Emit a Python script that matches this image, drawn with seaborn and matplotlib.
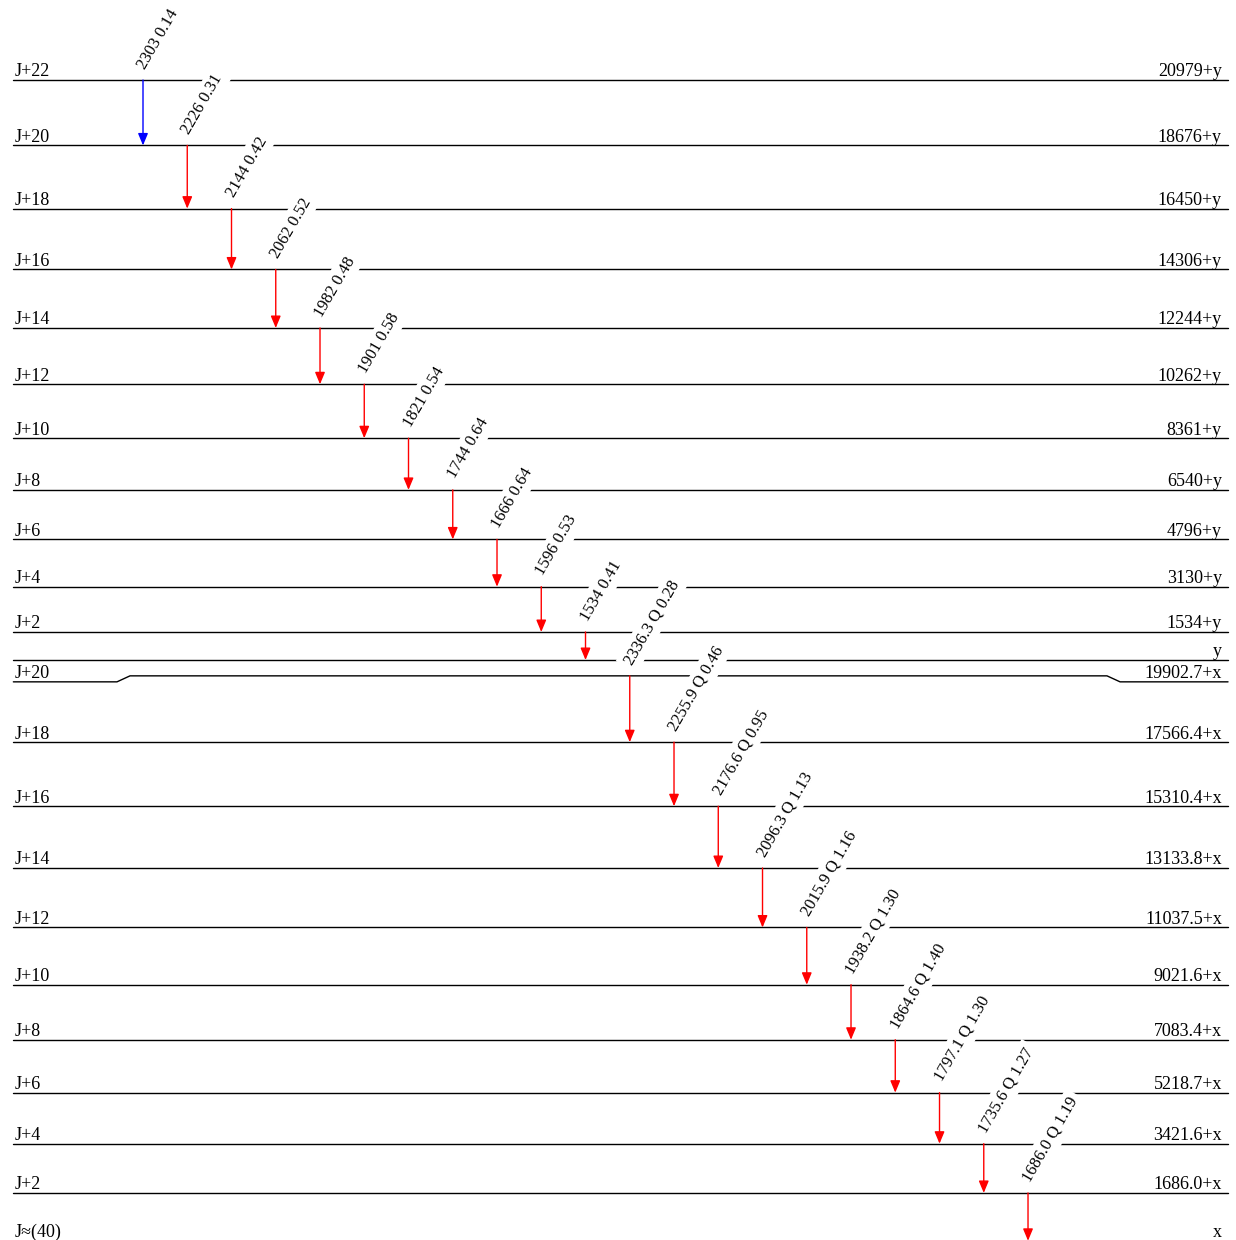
import numpy as np
import pandas as pd
import matplotlib
matplotlib.use('Agg')
import matplotlib.pyplot as plt
import seaborn as sns

# band "y" (upper part of the scheme)
y_spins = ['J+22', 'J+20', 'J+18', 'J+16', 'J+14', 'J+12', 'J+10', 'J+8', 'J+6', 'J+4', 'J+2', '']
y_energies = [20979, 18676, 16450, 14306, 12244, 10262, 8361, 6540, 4796, 3130, 1534, 0]
y_names = ['20979+y', '18676+y', '16450+y', '14306+y', '12244+y', '10262+y', '8361+y',
           '6540+y', '4796+y', '3130+y', '1534+y', 'y']
y_gammas = ['2303', '2226', '2144', '2062', '1982', '1901', '1821', '1744', '1666', '1596', '1534']
y_ratios = ['0.14', '0.31', '0.42', '0.52', '0.48', '0.58', '0.54', '0.64', '0.64', '0.53', '0.41']

# band "x" (lower part of the scheme)
x_spins = ['J+20', 'J+18', 'J+16', 'J+14', 'J+12', 'J+10', 'J+8', 'J+6', 'J+4', 'J+2', 'J\u2248(40)']
x_energies = [19902.7, 17566.4, 15310.4, 13133.8, 11037.5, 9021.6, 7083.4, 5218.7, 3421.6, 1686.0, 0.0]
x_names = ['19902.7+x', '17566.4+x', '15310.4+x', '13133.8+x', '11037.5+x', '9021.6+x',
           '7083.4+x', '5218.7+x', '3421.6+x', '1686.0+x', 'x']
x_gammas = ['2336.3', '2255.9', '2176.6', '2096.3', '2015.9', '1938.2', '1864.6', '1797.1', '1735.6', '1686.0']
x_ratios = ['Q 0.28', 'Q 0.46', 'Q 0.95', 'Q 1.13', 'Q 1.16', 'Q 1.30', 'Q 1.40', 'Q 1.30', 'Q 1.27', 'Q 1.19']

# layout
y_offset = 19914      # vertical shift of the y band
y_head_lift = 548     # bandhead y drawn a bit above its true place
kink_drop = 211       # J+20 (x) ends pushed down to clear the y line
x_left, x_right = -2.93, 24.52
first_color = 'blue'
other_color = 'red'

sns.set_style('white')
plt.rcParams['font.family'] = ['Liberation Serif', 'DejaVu Serif']
plt.rcParams['text.color'] = 'black'

# drawn positions of the levels
y_draw = [e + y_offset for e in y_energies]
y_draw[-1] = y_offset + y_head_lift
x_draw = list(x_energies)

rows = []
label_v = []
for i, v in enumerate(y_draw):
    rows += [('y%d' % i, x_left, v, 0), ('y%d' % i, x_right, v, 1)]
    label_v.append(v)
for i, v in enumerate(x_draw):
    if i == 0:
        lo = v - kink_drop
        pts = [(x_left, lo), (-0.588, lo), (-0.294, v), (21.785, v), (22.08, lo), (x_right, lo)]
        for k, (px, py) in enumerate(pts):
            rows.append(('x%d' % i, px, py, k))
        label_v.append(lo)
    else:
        rows += [('x%d' % i, x_left, v, 0), ('x%d' % i, x_right, v, 1)]
        label_v.append(v)
levels = pd.DataFrame(rows, columns=['level', 'pos', 'v', 'order'])

fig = plt.figure(figsize=(12.36, 12.40), dpi=100)
ax = fig.add_axes([0, 0, 1, 1])
sns.lineplot(data=levels, x='pos', y='v', units='level', estimator=None, sort=False,
             color='black', lw=1.0, legend=False, ax=ax, zorder=2)

# level labels
all_left = y_spins + x_spins
all_right = y_names + x_names
for lv, lt, rt in zip(label_v, all_left, all_right):
    ax.annotate(lt, xy=(-2.89, lv), xytext=(0, 2.6), textcoords='offset points',
                ha='left', va='baseline', fontsize=13, annotation_clip=False)
    ax.annotate(rt, xy=(24.38, lv), xytext=(0, 2.6), textcoords='offset points',
                ha='right', va='baseline', fontsize=13, annotation_clip=False)

# transitions
tops = y_draw[:-1] + x_draw[:-1]
bottoms = y_draw[1:] + x_draw[1:]
texts = ['%s %s' % (g, r) for g, r in zip(y_gammas, y_ratios)] + \
        ['%s %s' % (g, r) for g, r in zip(x_gammas, x_ratios)]
for i, (t, b, s) in enumerate(zip(tops, bottoms, texts)):
    c = first_color if i == 0 else other_color
    ax.annotate('', xy=(i, b), xytext=(i, t), annotation_clip=False,
                arrowprops=dict(arrowstyle='-|>,head_length=0.6,head_width=0.25',
                                mutation_scale=12, color=c, lw=1.0,
                                shrinkA=0, shrinkB=0), zorder=4)
    ax.annotate(s, xy=(i, t), xytext=(1.5, 7.5), textcoords='offset points',
                rotation=60, rotation_mode='anchor', ha='left', va='baseline',
                fontsize=12, zorder=3,
                bbox=dict(boxstyle='square,pad=0.25', fc='white', ec='none'))

ax.set_xlim(-3.2316, 24.70)
ax.set_ylim(28, 43713)
ax.set_axis_off()

fig.savefig('out.png', dpi=100)
